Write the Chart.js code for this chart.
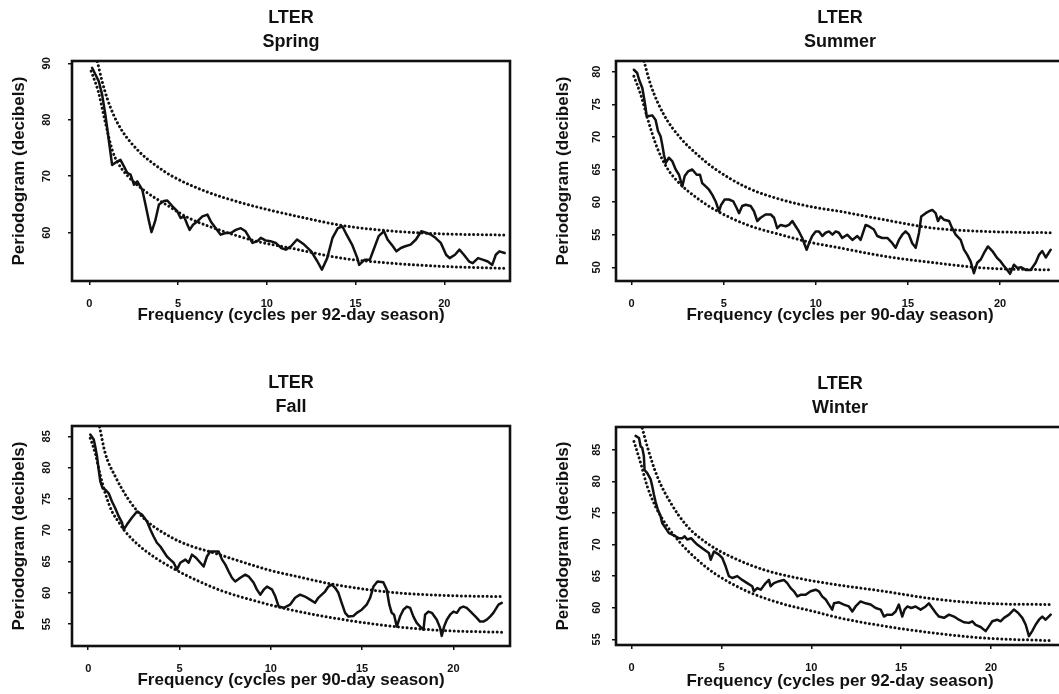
<!DOCTYPE html>
<html>
<head>
<meta charset="utf-8">
<title>LTER seasonal periodograms</title>
<script src="https://cdn.jsdelivr.net/npm/chart.js@4.4.1/dist/chart.umd.min.js"></script>
<style>
  html, body { margin: 0; padding: 0; background: #fff; }
  body { position: relative; width: 1059px; height: 694px; overflow: hidden; }
  canvas { position: absolute; }
</style>
</head>
<body>
<canvas id="spring"></canvas>
<canvas id="summer"></canvas>
<canvas id="fall"></canvas>
<canvas id="winter"></canvas>
<script>
// ---- Tick labels ----
const freqTicks = [0, 5, 10, 15, 20];
const springDbTicks = [60, 70, 80, 90];
const summerDbTicks = [50, 55, 60, 65, 70, 75, 80];
const fallDbTicks = [55, 60, 65, 70, 75, 80, 85];
const winterDbTicks = [55, 60, 65, 70, 75, 80, 85];

// ---- Spring (92-day season): [frequency, decibels] ----
const springPeriodogram = [
  [0.15,89.2],[0.34,88.0],[0.53,86.8],[0.72,84.4],[0.9,80.9],[1.1,76.2],[1.28,72.0],[1.56,72.6],
  [1.75,72.9],[1.94,71.8],[2.13,70.6],[2.32,70.3],[2.51,68.5],[2.7,69.1],[2.98,67.6],[3.16,65.0],
  [3.36,62.0],[3.5,60.1],[3.7,62.0],[3.92,65.0],[4.2,65.6],[4.39,65.7],[4.67,64.7],[4.95,63.8],
  [5.14,62.6],[5.33,62.9],[5.52,61.4],[5.65,60.5],[5.84,61.4],[6.08,62.0],[6.37,62.9],[6.65,63.2],
  [6.84,62.0],[7.12,60.8],[7.4,59.65],[7.68,59.95],[7.97,59.95],[8.25,60.5],[8.53,60.8],[8.8,60.25],
  [9.19,58.2],[9.47,58.5],[9.66,59.1],[9.94,58.6],[10.2,58.5],[10.5,58.2],[10.8,57.3],[11.07,57.0],
  [11.36,57.6],[11.7,58.8],[12.1,57.9],[12.5,56.7],[12.85,54.9],[13.1,53.45],[13.4,55.5],[13.7,59.1],
  [14.0,60.8],[14.26,61.1],[14.5,59.6],[14.8,57.9],[15.1,55.5],[15.2,54.3],[15.5,55.2],[15.8,55.2],
  [16.05,57.3],[16.3,59.4],[16.6,60.25],[16.8,58.8],[17.1,57.6],[17.3,56.7],[17.55,57.3],[17.8,57.6],
  [18.1,57.9],[18.4,58.8],[18.7,60.25],[19.0,59.95],[19.25,59.65],[19.5,59.1],[19.8,58.2],[20.1,56.1],
  [20.3,55.5],[20.6,56.1],[20.85,57.0],[21.1,56.1],[21.4,54.9],[21.6,54.6],[21.9,55.5],[22.2,55.2],
  [22.45,54.9],[22.7,54.3],[22.9,56.1],[23.1,56.7],[23.4,56.4]
];
const springLower = [
  [0.1,88.6],[0.5,85.0],[0.9,79.5],[1.3,74.5],[1.6,72.4],[2.2,69.9],[3.16,67.3],[4.31,65.0],
  [5.6,62.6],[7.5,60.3],[9.4,58.5],[11.3,57.3],[14.2,55.5],[17.0,54.6],[19.8,54.05],[23.4,53.7]
];
const springUpper = [
  [0.45,90.3],[0.7,87.0],[1.0,83.8],[1.4,80.6],[1.85,78.0],[2.79,74.4],[3.7,72.0],[4.67,70.0],
  [6.57,67.3],[8.44,65.4],[10.3,63.9],[12.0,62.7],[14.2,61.3],[17.0,60.3],[19.8,59.8],[23.4,59.6]
];

// ---- Summer (90-day season) ----
const summerPeriodogram = [
  [0.12,80.3],[0.3,79.8],[0.4,78.8],[0.58,77.5],[0.67,76.0],[0.76,74.4],[0.81,73.2],[0.94,73.2],
  [1.12,73.3],[1.3,72.6],[1.43,70.9],[1.57,70.1],[1.66,68.8],[1.75,67.3],[1.85,66.0],[2.02,66.8],
  [2.2,66.3],[2.39,65.0],[2.57,64.2],[2.75,62.4],[2.88,64.0],[3.06,64.7],[3.29,65.0],[3.53,64.2],
  [3.71,64.2],[3.83,62.9],[4.02,62.4],[4.2,61.9],[4.38,61.1],[4.56,60.1],[4.74,58.6],[4.86,59.6],
  [5.05,60.4],[5.28,60.4],[5.52,60.1],[5.7,59.1],[5.83,58.3],[6.0,59.4],[6.19,59.6],[6.46,59.4],
  [6.64,58.6],[6.82,57.1],[7.0,57.6],[7.27,58.1],[7.55,58.1],[7.73,57.6],[7.9,56.0],[8.09,56.5],
  [8.36,56.3],[8.54,56.5],[8.72,57.1],[8.9,56.3],[9.08,55.5],[9.26,54.5],[9.39,53.5],[9.5,52.7],
  [9.63,53.7],[9.8,54.8],[9.99,55.5],[10.17,55.5],[10.35,54.8],[10.53,55.3],[10.71,55.5],[10.9,55.0],
  [11.08,55.5],[11.25,55.3],[11.43,54.5],[11.7,55.0],[11.98,54.2],[12.25,54.8],[12.43,54.2],[12.7,56.5],
  [12.88,56.3],[13.15,55.8],[13.33,54.8],[13.6,54.5],[13.88,54.5],[14.15,53.7],[14.33,53.0],[14.51,54.2],
  [14.69,55.0],[14.87,55.5],[15.05,55.0],[15.23,53.7],[15.42,53.0],[15.6,55.3],[15.72,57.8],[15.96,58.3],
  [16.14,58.6],[16.32,58.8],[16.5,58.3],[16.63,57.1],[16.77,57.8],[16.95,57.3],[17.23,57.1],[17.4,56.0],
  [17.59,55.0],[17.86,54.2],[18.04,52.7],[18.22,51.9],[18.4,50.9],[18.58,49.1],[18.76,50.7],[18.95,51.2],
  [19.13,52.2],[19.34,53.2],[19.58,52.5],[19.85,51.4],[20.03,50.9],[20.21,50.2],[20.39,49.6],[20.54,49.0],
  [20.75,50.4],[20.93,49.9],[21.15,50.0],[21.39,49.6],[21.66,49.6],[21.93,50.7],[22.11,51.9],[22.29,52.5],
  [22.48,51.5],[22.75,52.7]
];
const summerLower = [
  [0.12,79.3],[0.49,76.5],[0.85,72.9],[1.39,68.3],[1.93,65.2],[2.66,62.7],[3.56,60.6],[4.47,58.9],
  [6.28,56.5],[8.09,55.0],[9.9,53.7],[11.25,53.0],[13.7,51.7],[16.4,50.7],[19.13,49.9],[22.75,49.6]
];
const summerUpper = [
  [0.67,81.6],[1.03,78.0],[1.75,73.4],[2.66,69.8],[3.56,67.3],[4.47,65.2],[6.28,62.2],[8.09,60.4],
  [9.9,59.2],[11.25,58.6],[13.7,57.3],[16.4,56.0],[19.13,55.5],[22.75,55.3]
];

// ---- Fall (90-day season) ----
const fallPeriodogram = [
  [0.11,85.3],[0.3,84.5],[0.38,83.4],[0.48,81.8],[0.57,79.7],[0.66,77.8],[0.79,76.7],[0.93,76.5],
  [1.12,75.9],[1.3,74.6],[1.48,73.5],[1.67,72.2],[1.85,71.2],[1.94,70.1],[2.12,70.9],[2.39,72.0],
  [2.67,73.0],[2.94,72.5],[3.22,71.4],[3.4,70.1],[3.58,69.0],[3.76,68.0],[3.95,67.4],[4.13,66.6],
  [4.31,65.8],[4.49,65.3],[4.68,64.8],[4.86,63.7],[5.04,64.8],[5.32,65.3],[5.5,64.8],[5.68,66.1],
  [5.9,65.6],[6.14,64.8],[6.32,64.2],[6.5,65.8],[6.68,66.6],[6.96,66.6],[7.14,66.6],[7.33,65.3],
  [7.51,64.5],[7.69,63.4],[7.87,62.4],[8.05,61.8],[8.33,62.4],[8.6,62.9],[8.79,62.6],[9.06,61.6],
  [9.24,60.5],[9.42,59.7],[9.61,60.5],[9.79,61.0],[10.07,60.5],[10.25,59.4],[10.43,57.8],[10.71,57.6],
  [11.05,58.1],[11.33,59.2],[11.6,59.7],[11.87,59.4],[12.15,58.9],[12.42,58.4],[12.6,59.2],[12.79,59.7],
  [12.97,60.2],[13.15,61.0],[13.34,61.3],[13.52,60.8],[13.7,60.0],[13.88,58.4],[14.07,56.8],[14.25,56.2],
  [14.52,56.3],[14.71,56.8],[14.98,57.3],[15.25,58.1],[15.44,59.2],[15.62,61.0],[15.84,61.8],[16.16,61.7],
  [16.35,60.5],[16.49,58.1],[16.62,56.8],[16.75,56.5],[16.9,54.6],[17.08,56.2],[17.26,57.3],[17.45,57.8],
  [17.63,57.6],[17.81,56.2],[17.99,55.2],[18.18,54.6],[18.36,54.1],[18.45,56.5],[18.63,57.0],[18.82,56.8],
  [19.09,55.7],[19.27,54.4],[19.36,53.1],[19.49,54.6],[19.64,55.7],[19.82,56.5],[20.0,57.0],[20.19,56.8],
  [20.37,57.6],[20.55,57.8],[20.73,57.6],[21.01,56.8],[21.28,56.0],[21.46,55.4],[21.64,55.4],[21.83,55.7],
  [22.01,56.2],[22.19,56.8],[22.47,58.1],[22.65,58.4]
];
const fallLower = [
  [0.11,84.7],[0.38,82.3],[0.66,78.8],[0.93,75.9],[1.3,73.0],[1.67,71.3],[1.94,70.1],[2.76,67.6],
  [3.67,65.6],[4.59,64.0],[5.5,62.6],[7.33,60.3],[9.15,58.7],[11.05,57.3],[13.8,55.8],[16.5,54.7],
  [19.27,54.0],[22.65,53.7]
];
const fallUpper = [
  [0.62,86.5],[0.93,82.3],[1.48,78.6],[2.21,74.9],[3.12,71.7],[4.59,68.8],[5.5,67.6],[6.96,66.3],
  [8.24,65.1],[10.07,63.5],[11.44,62.6],[13.34,61.4],[16.5,60.1],[19.27,59.6],[22.65,59.4]
];

// ---- Winter (92-day season) ----
const winterPeriodogram = [
  [0.22,87.2],[0.41,86.85],[0.5,85.5],[0.59,85.3],[0.68,84.0],[0.72,81.8],[0.87,81.3],[1.06,80.3],
  [1.15,79.2],[1.24,77.9],[1.33,76.8],[1.46,75.5],[1.61,74.5],[1.7,73.4],[1.89,72.6],[2.08,71.8],
  [2.26,71.55],[2.45,71.3],[2.63,71.0],[2.82,71.0],[2.95,71.3],[3.09,70.8],[3.32,71.0],[3.47,70.5],
  [3.65,70.0],[3.93,69.4],[4.3,68.65],[4.4,67.6],[4.58,68.9],[4.86,68.4],[5.04,67.9],[5.23,66.55],
  [5.41,65.0],[5.6,64.7],[5.88,65.0],[6.15,64.4],[6.43,63.9],[6.71,63.4],[6.8,62.6],[6.99,63.1],
  [7.18,62.85],[7.46,63.9],[7.64,64.4],[7.73,63.4],[7.92,63.9],[8.2,64.2],[8.47,64.4],[8.66,63.9],
  [8.85,63.1],[9.03,62.6],[9.22,61.8],[9.4,62.05],[9.68,62.05],[9.96,62.6],[10.24,62.85],[10.42,62.6],
  [10.6,61.8],[10.8,61.3],[10.98,60.5],[11.16,59.7],[11.26,60.7],[11.54,60.85],[11.81,60.5],[12.09,60.2],
  [12.28,59.4],[12.46,60.2],[12.74,61.0],[13.02,60.7],[13.3,60.5],[13.58,59.95],[13.86,59.7],[14.04,58.6],
  [14.22,58.9],[14.5,58.9],[14.69,59.4],[14.87,60.5],[15.06,58.6],[15.19,59.7],[15.34,60.2],[15.56,59.95],
  [15.8,60.2],[16.08,59.7],[16.36,60.2],[16.54,60.7],[16.73,59.95],[16.92,59.2],[17.1,58.6],[17.38,58.4],
  [17.66,58.9],[17.94,58.6],[18.21,58.1],[18.49,57.7],[18.77,57.6],[18.96,57.85],[19.14,57.3],[19.42,56.95],
  [19.7,56.3],[19.88,57.05],[20.07,57.85],[20.34,58.1],[20.53,57.85],[20.72,58.4],[21.0,58.9],[21.27,59.7],
  [21.5,59.2],[21.74,58.4],[21.93,57.3],[22.11,55.5],[22.29,56.3],[22.48,57.3],[22.67,58.1],[22.85,58.6],
  [23.04,58.1],[23.32,58.9]
];
const winterLower = [
  [0.13,86.3],[0.5,82.9],[0.87,79.2],[1.33,76.0],[1.98,72.9],[2.73,70.2],[3.65,67.6],[4.58,65.5],
  [6.43,62.6],[8.29,60.7],[10.15,59.4],[11.54,58.4],[14.04,57.1],[16.8,56.0],[19.6,55.2],[23.3,54.8]
];
const winterUpper = [
  [0.59,88.4],[0.87,85.5],[1.42,80.8],[2.17,76.6],[3.09,72.9],[4.2,70.2],[5.51,68.1],[7.36,66.0],
  [9.22,64.7],[11.26,63.7],[14.04,62.6],[16.8,61.4],[19.6,60.7],[23.3,60.5]
];

// ---- Drawing ----
const FONT = '"Liberation Sans", Arial, Helvetica, sans-serif';
const INK = '#111';

const toXY = pairs => pairs.map(([x, y]) => ({ x, y }));

// Heavy frame round the plotting region
const framePlugin = {
  id: 'plotFrame',
  afterDatasetsDraw(chart) {
    const { ctx, chartArea: a } = chart;
    ctx.save();
    ctx.strokeStyle = INK;
    ctx.lineWidth = 2.6;
    ctx.strokeRect(a.left, a.top, a.right - a.left, a.bottom - a.top);
    ctx.restore();
  }
};

// Value labels on the decibel axis, turned to run along the axis
const rotatedYLabels = {
  id: 'rotatedYLabels',
  afterDraw(chart, args, opts) {
    const { ctx, chartArea } = chart;
    const yScale = chart.scales.y;
    ctx.save();
    ctx.fillStyle = INK;
    ctx.font = 'bold 11px ' + FONT;
    ctx.textAlign = 'center';
    ctx.textBaseline = 'middle';
    yScale.ticks.forEach(t => {
      const py = yScale.getPixelForValue(t.value);
      ctx.save();
      ctx.translate(chartArea.left - opts.gap, py);
      ctx.rotate(-Math.PI / 2);
      ctx.fillText(String(t.value), 0, 0);
      ctx.restore();
    });
    ctx.restore();
  }
};

const tickGrid = {
  display: true,
  drawOnChartArea: false,
  drawTicks: true,
  tickLength: 4,
  color: INK,
  lineWidth: 1.5
};

function drawPanel(id, p) {
  const canvas = document.getElementById(id);
  canvas.width = p.w;
  canvas.height = p.h;
  canvas.style.left = p.left + 'px';
  canvas.style.top = p.top + 'px';

  const dotted = {
    borderColor: INK,
    borderWidth: 3,
    borderDash: [0.001, 4.3],
    borderCapStyle: 'round',
    cubicInterpolationMode: 'monotone',
    pointRadius: 0,
    fill: false
  };

  new Chart(canvas, {
    type: 'line',
    data: {
      datasets: [
        Object.assign({ label: 'lower', data: toXY(p.lower) }, dotted),
        Object.assign({ label: 'upper', data: toXY(p.upper) }, dotted),
        {
          label: 'periodogram',
          data: toXY(p.series),
          borderColor: INK,
          borderWidth: 2.5,
          borderJoinStyle: 'round',
          borderCapStyle: 'round',
          tension: 0,
          pointRadius: 0,
          fill: false
        }
      ]
    },
    options: {
      responsive: false,
      animation: false,
      events: [],
      layout: { padding: { left: 0, right: 20, top: 0, bottom: 0 } },
      plugins: {
        legend: { display: false },
        tooltip: { enabled: false },
        title: {
          display: true,
          text: ['LTER', p.season],
          fullSize: false,
          color: INK,
          font: { family: FONT, size: 18, weight: 'bold', lineHeight: '24px' },
          padding: { top: 6, bottom: 7 }
        },
        rotatedYLabels: { gap: p.labelGap }
      },
      scales: {
        x: {
          type: 'linear',
          min: p.xMin,
          max: p.xMax,
          afterBuildTicks: s => { s.ticks = freqTicks.map(v => ({ value: v })); },
          afterFit: s => { s.height = p.xAxisHeight; },
          grid: tickGrid,
          border: { display: false },
          ticks: {
            color: INK,
            padding: 12,
            maxRotation: 0,
            autoSkip: false,
            font: { family: FONT, size: 11, weight: 'bold' }
          },
          title: {
            display: true,
            text: p.xTitle,
            color: INK,
            font: { family: FONT, size: 17, weight: 'bold' },
            padding: { top: 0, bottom: 21 }
          }
        },
        y: {
          type: 'linear',
          min: p.yMin,
          max: p.yMax,
          afterBuildTicks: s => { s.ticks = p.yTicks.map(v => ({ value: v })); },
          afterFit: s => { s.width = 72; },
          grid: tickGrid,
          border: { display: false },
          ticks: { display: false },
          title: {
            display: true,
            text: 'Periodogram (decibels)',
            color: INK,
            font: { family: FONT, size: 17, weight: 'bold' },
            padding: { top: 9, bottom: 0 }
          }
        }
      }
    },
    plugins: [framePlugin, rotatedYLabels]
  });
}

drawPanel('spring', {
  left: 0, top: 0, w: 530, h: 347, xAxisHeight: 66, labelGap: 25,
  season: 'Spring', xTitle: 'Frequency (cycles per 92-day season)',
  xMin: -0.98, xMax: 23.7, yMin: 51.45, yMax: 90.4, yTicks: springDbTicks,
  series: springPeriodogram, lower: springLower, upper: springUpper
});
drawPanel('summer', {
  left: 544, top: 0, w: 540, h: 347, xAxisHeight: 66, labelGap: 19,
  season: 'Summer', xTitle: 'Frequency (cycles per 90-day season)',
  xMin: -0.85, xMax: 23.47, yMin: 47.9, yMax: 81.64, yTicks: summerDbTicks,
  series: summerPeriodogram, lower: summerLower, upper: summerUpper
});
drawPanel('fall', {
  left: 0, top: 365, w: 530, h: 347, xAxisHeight: 66, labelGap: 25,
  season: 'Fall', xTitle: 'Frequency (cycles per 90-day season)',
  xMin: -0.89, xMax: 23.1, yMin: 51.5, yMax: 86.65, yTicks: fallDbTicks,
  series: fallPeriodogram, lower: fallLower, upper: fallUpper
});
drawPanel('winter', {
  left: 544, top: 366, w: 540, h: 347, xAxisHeight: 68, labelGap: 19,
  season: 'Winter', xTitle: 'Frequency (cycles per 92-day season)',
  xMin: -0.87, xMax: 24.06, yMin: 54.1, yMax: 88.6, yTicks: winterDbTicks,
  series: winterPeriodogram, lower: winterLower, upper: winterUpper
});
</script>
</body>
</html>
